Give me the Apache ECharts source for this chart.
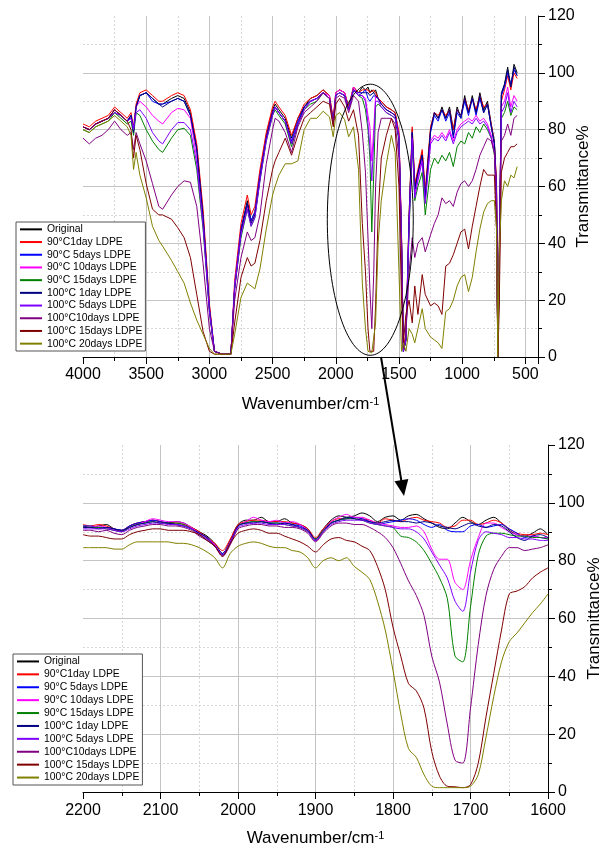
<!DOCTYPE html>
<html><head><meta charset="utf-8">
<script src="https://cdn.jsdelivr.net/npm/echarts@6/dist/echarts.min.js"></script>
<style>html,body{margin:0;padding:0;background:#fff}#c{width:611px;height:848px}</style>
</head><body><div id="c"></div>
<script>
const seriesNames = ['Original','90°C1day LDPE','90°C 5days LDPE','90°C 10days LDPE','90°C 15days LDPE','100°C 1day LDPE','100°C 5days LDPE','100°C10days LDPE','100°C 15days LDPE','100°C 20days LDPE'];
const seriesColors = ['#000000','#ff0000','#0000ff','#ff00ff','#008000','#000080','#8000ff','#800080','#800000','#808000'];

// ---------- top panel: full spectrum ----------
const wnTop = [4000,3950,3900,3850,3800,3750,3700,3650,3620,3600,
 3580,3550,3500,3450,3400,3370,3300,3250,3200,3150,
 3100,3050,3000,2960,2900,2830,2800,2750,2700,2670,
 2640,2600,2550,2500,2480,2450,2400,2350,2300,2250,
 2200,2150,2100,2050,2020,2000,1970,1930,1898,1860,
 1820,1790,1765,1745,1730,1715,1700,1685,1665,1640,
 1600,1560,1530,1500,1480,1465,1445,1420,1395,1375,
 1350,1316,1292,1250,1220,1190,1160,1130,1100,1070,
 1040,1010,980,950,920,890,860,830,800,770,
 745,728,718,708,690,665,640,615,590,565];
const topOriginal = [81,80,82,83,84,87,85,83,85,80,88,92,93,91,89,89,91,92,91,86,74,50,18,2,1,1,25,45,55,48,51,64,78,87,89,87,84,77,84,88,91,92,94,92,83,93,94,93,88,95,93,95,94,95,93,94,93,94,91,90,88,87,86,78,42,2,6,50,80,60,65,72,57,80,86,84,88,84,88,80,88,84,92,86,92,86,93,87,90,82,76,60,0,30,92,96,102,95,103,100];
const top90d1 = [82,81,83,84,85,88,86,84,86,81,89,93,94,92,90,90,92,93,92,87,75,52,19,2,1,1,27,47,57,50,53,66,79,88,90,88,85,78,84,89,91,92,94,92,84,93,94,93,88,95,93,94,94,94,93,93,94,93,91,90,88,87,86,79,44,3,8,50,81,61,66,73,59,81,86,85,87,85,87,80,87,85,91,87,91,87,92,88,89,82,75,62,1,35,90,94,99,94,100,98];
const top90d5 = [81,80,82,83,84,86,85,83,85,80,88,92,93,90,89,89,90,91,90,85,73,49,17,2,1,1,25,45,54,48,51,64,77,86,88,86,83,76,83,88,90,91,93,91,83,92,93,92,87,94,93,93,94,91,90,91,92,92,91,89,87,86,85,77,41,2,6,48,79,58,64,71,56,79,85,83,87,83,86,77,86,84,90,85,91,85,91,86,89,81,75,58,0,30,92,95,100,96,101,99];
const top90d10 = [81,80,82,83,84,87,85,83,84,80,88,90,88,85,83,82,86,87.5,87,84,70,48,17,2,1,1,25,44,53,47,50,63,77,86,88,86,83,75,82,87,90,91,93,92,82,93,94,93,87,95,92,92,91,85,81,69,80,92,91,89,87,86,85,78,42,2,6,47,78,57,63,70,55,76,78,77,79,77,80,76,80,82,83,84,83,85,83,84,82,78,73,58,0,28,88,90,95,88,92,90];
const top90d15 = [80,79,81,82,83,86,84,82,83,78,86,85,80,76,73,72,77,80,80.5,78,66,45,16,2,1,1,24,42,52,46,49,62,76,85,87,85,82,74,82,87,89,90,93,91,82,92,93,92,87,94,92,91,87,80,70,44,64,88,89,88,86,85,84,76,40,2,6,44,75,55,60,65,50,66,70,68,71,69,72,67,74,76,75,79,77,81,79,82,80,77,71,55,0,26,84,86,90,85,88,87];
const top100d1 = [81,80,82,83,84,87,85,83,85,79,88,92,93,91,89,88,90,91,90,85,73,49,17,2,1,1,24,44,54,47,50,63,77,86,88,86,83,75,82,88,90,91,93,91,82,92,93,92,87,94,92,93,93,93,92,92,93,92,91,89,87,86,85,77,41,2,6,48,79,59,65,71,56,80,86,84,87,84,87,78,87,85,91,86,91,86,92,86,89,81,75,58,0,28,93,96,101,95,102,99];
const top100d5 = [81,80,82,83,84,86,85,83,84,80,86,87,84,79,76,75,80,82.5,82.5,80,68,46,16,2,1,1,24,43,52,46,49,62,76,85,88,86,83,75,82,87,90,91,93,91,82,92,93,92,87,94,92,92,90,82,74,62,76,90,90,88,86,85,84,77,41,2,6,46,77,56,62,69,54,75,77,76,78,76,79,75,79,81,82,83,82,84,82,83,81,77,72,57,0,28,86,88,93,86,90,88];
const top100d10 = [77,75,77,78,80,83,80,78,79,73,79,75,69,61,53,52,57,60,62,61.5,53,33,10,2,1,1,20,35,44,41,42,50,68,80,84,83,79,72,81,86,88,90,93,91,82,91,92,91,86,92,90,79,65,42,24,10,29,60,79,84,84,84,82,70,35,3,8,30,42,35,40,42,37,43,47,50,56,54,55,53,58,61,62,60,62,66,71,74,77,76,72,50,0,25,76,78,82,78,84,85];
const top100d15 = [81,80,82,83,84,87,85,83,80,70,78,73,61,52,50,50,48.5,45.5,42,35,22,9,2,1,1,1,12,28,35,32,33,41,55,66,69,72,77,71,78,84,86,88,90,89,81,89,91,88,83,87,78,47,30,10,2,2,2,18,50,70,78,84,80,60,20,5,15,20,12,25,15,29,22,18,19,18,15,32,33,36,40,44,45,38,46,53,60,66,64,64,64,45,0,15,65,70,72,74,74,75];
const top100d20 = [80,79,81,82,83,85,83,81,78,66,72,64,56,46,41,39,34,30,26,19,13,8,3,1,1,1,8,21,26,25,24,31,45,57,60,64,68,68,69,80,84,84,86.5,84.5,77.5,85,86,83.5,77.5,81,66,26,10,2,1.5,1.5,2,12,40,55,68,78,72,30,2,5,2,10,8,5,10,17,10,7,6,5,3,16,17,20,25,28,29,23,28,37,45,51,54,55,55,45,0,35,55,62,60,64,63,67];

// ---------- bottom panel: 2200-1600 zoom ----------
const wnBot = [2200,2190,2180,2170,2160,2150,2140,2130,2120,2110,2100,2090,2080,2070,2060,2050,2040,2030,2020,2010,2000,1990,1980,1970,1960,1950,1940,1930,1920,1910,1900,1890,1880,1870,1860,1850,1840,1830,1820,1810,1800,1790,1780,1770,1760,1750,1740,1730,1720,1710,1700,1690,1680,1670,1660,1650,1640,1630,1620,1610,1600];
const botOriginal = [92,91.5,92,92.5,91,90,92,93,93.5,94,93.5,93,93.5,93,91.5,90,88.5,86,82.5,87,92.5,94,94,95,93.5,93.5,94.5,93,92.5,91,87.5,91,94,95.5,95,95.5,96.5,95.5,93.5,95,95.5,94,95.5,96,94.5,93,91.5,91,93,95,93.5,92.5,94,95,93,90.5,89,88.5,89.5,91,89];
const bot90d1 = [92.5,92,92.5,92,91,90.5,92,93,93.5,94,93.5,93,93,92.5,91.5,90,88,86,83.5,87.5,92.5,93.5,94,94,93.5,93.5,93.5,93,92.5,91,88,91,93.5,94.5,94.5,95,94.5,94,93,94.5,94,93.5,94.5,95,94,93.5,93,91.5,92,94,94,92.5,93,94,93,91,89.5,89,89,89.5,89];
const bot90d5 = [92,92,91.5,91.5,91,90.5,92,93,93.5,94,93.5,93,92.5,92,91,89.5,88,85.5,82.5,86.5,92,93,93.5,93.5,93,93,93,92.5,92,90.5,87.5,90.5,93,94,94.5,95,94.5,93.5,92.5,93,93.5,94,94.5,94,92.5,91.5,92.5,90.5,90,90,92,92.5,91.5,92,92.5,91,89.5,88,88.5,88,87.5];
const bot90d10 = [91.5,91.5,92,91.5,90.5,90,91.5,92.5,93.5,94.5,94,93.5,93.5,93,91.5,89.5,88,85.5,82,86.5,92,93.5,95,94,93.5,94,93,93.5,92.5,90.5,87,90.5,93.5,95,96,95,95,94,93,92.5,92,91.5,91.5,92,90,84,80.5,80.5,72.5,70,80,88,93,93,91.5,90,89,88.5,88.5,88,88];
const bot90d15 = [91.5,91.5,91.5,91,90.5,90,91.5,92.5,93,93.5,93,93,93,92.5,91,89,87.5,85,82,86,92,93,93.5,93.5,93,93,92.5,92,91.5,90,87.5,90.5,93,94,94.5,94.5,94,93,92.5,92,91.5,88.5,88,86.5,83.5,79,74,67,47,45,64,82,88.5,89.5,89.5,89,88.5,88.5,88,88,87.5];
const bot100d1 = [91.5,91.5,91,91.5,91,90.5,91.5,92.5,93,93.5,93,93,92.5,92,91,89.5,88,85,82,86,92,93,93,93.5,93,92.5,93,92.5,91.5,90.5,87,90,93,94,95,94.5,94,93.5,93,93.5,94,93.5,93.5,93,93.5,93,92,91.5,91,92,93,92,91.5,92.5,92,90,88,87,88.5,89,88];
const bot100d5 = [91,91,91,91,90.5,90,91,92,92.5,93,93,92.5,92.5,92,91,89,87.5,85,82,86,91.5,92.5,93,93,92.5,92.5,92.5,92,91.5,90,87,90,92.5,93.5,94,94,94,93,92.5,92,91.5,91,91,90,87.5,83,78.5,74,66,62.5,76,87,90,89.5,89,88,88,87.5,87.5,87,87];
const bot100d10 = [90.5,90.5,90,90.5,89.5,89,90.5,91.5,92,92.5,92.5,92,92,91.5,90.5,88.5,87,85,81.5,85.5,91,92,92.5,92.5,92,92,91.5,91.5,91,89.5,86.5,89.5,92,93,93,92.5,92.5,91.5,90,88,84.5,79,73,68,61,47,38,23.5,11,10,29,51,68,77,81.5,84.5,84.5,83.5,84,84.5,85.5];
const bot100d15 = [89,88.5,88.5,88,87.5,87.5,89,90,90.5,91,91,90.5,90.5,90.5,90,89,87,85,81.5,86,89.5,90.5,91,90.5,89.5,89.5,88.5,87.5,86.5,85,83,85.5,87.5,88,87,86.5,85,83.5,78,70,57,47,37.5,35,29,14,5.5,2,1.8,1.5,2.5,10,26,41,56,68.5,69.5,71,74,76,77.5];
const bot100d20 = [84.5,84.5,84.5,84.5,84,84,85.5,86.5,86.5,86.5,86.5,86.5,86,86,85.5,84.5,83,81,77.5,82.5,85,86,86.5,86,85,84.5,84.5,83.5,83,81,77.5,80,81,80,81,78,76,73.5,66,56,42,27,15,12,6,2,1.5,1.5,1.5,1.5,2,6,19,33,45,52,55,58.5,62,65,68.5];

const yTicks = [0,20,40,60,80,100,120];
// annotation: ellipse around the carbonyl band (data units of the top panel)
const ellipseCenter = [1727, 48.3];
const ellipseRadius = [340, 47.7];

const topData = [topOriginal,top90d1,top90d5,top90d10,top90d15,top100d1,top100d5,top100d10,top100d15,top100d20];
const botData = [botOriginal,bot90d1,bot90d5,bot90d10,bot90d15,bot100d1,bot100d5,bot100d10,bot100d15,bot100d20];

const FONT = '"Liberation Sans", Arial, sans-serif';
const chart = echarts.init(document.getElementById('c'), null, {renderer: 'canvas'});

function xAxis(gi, min, max, opts, nameGap) {
  return Object.assign({
    type: 'value', gridIndex: gi, min: min, max: max, inverse: true,
    axisLine: {show: true, onZero: false, lineStyle: {color: '#000', width: 1}},
    axisTick: {show: true, inside: false, length: 7, lineStyle: {color: '#000'}},
    minorTick: {show: true, splitNumber: 2, length: 4, lineStyle: {color: '#000'}},
    splitLine: {show: true, showMinLine: false, showMaxLine: false, lineStyle: {color: '#c4c4c4', width: 1}},
    minorSplitLine: {show: true, lineStyle: {color: '#d6d6d6', type: [2, 2], width: 1}},
    name: '{a|Wavenumber/cm}{b|-1}', nameLocation: 'middle', nameGap: nameGap, nameMoveOverlap: false,
    nameTextStyle: {fontFamily: FONT, color: '#000', rich: {a: {fontSize: 17, fontFamily: FONT, color: '#000'}, b: {fontSize: 11, fontFamily: FONT, color: '#000', verticalAlign: 'top'}}}
  }, opts);
}
function yAxis(gi, nameGap) {
  return {
    type: 'value', gridIndex: gi, position: 'right', min: yTicks[0], max: yTicks[yTicks.length - 1], interval: 20,
    axisLine: {show: true, onZero: false, lineStyle: {color: '#000', width: 1}},
    axisTick: {show: true, inside: false, length: 7, lineStyle: {color: '#000'}},
    minorTick: {show: true, splitNumber: 2, length: 4, lineStyle: {color: '#000'}},
    axisLabel: {fontSize: 16, color: '#000', fontFamily: FONT, margin: 10},
    splitLine: {show: true, showMinLine: false, showMaxLine: false, lineStyle: {color: '#c4c4c4', width: 1}},
    minorSplitLine: {show: true, lineStyle: {color: '#d6d6d6', type: [2, 2], width: 1}},
    name: 'Transmittance%', nameLocation: 'middle', nameGap: nameGap, nameMoveOverlap: false,
    nameTextStyle: {fontSize: 17, color: '#000', fontFamily: FONT}
  };
}

const series = [];
topData.forEach((arr, i) => series.push({
  name: seriesNames[i], type: 'line', xAxisIndex: 0, yAxisIndex: 0,
  data: wnTop.map((w, k) => [w, arr[k]]), symbol: 'none', showSymbol: false,
  lineStyle: {width: 1, color: seriesColors[i]}, itemStyle: {color: seriesColors[i]}, animation: false
}));
botData.forEach((arr, i) => series.push({
  name: seriesNames[i], type: 'line', xAxisIndex: 1, yAxisIndex: 1, smooth: 0.3,
  data: wnBot.map((w, k) => [w, arr[k]]), symbol: 'none', showSymbol: false,
  lineStyle: {width: 1, color: seriesColors[i]}, itemStyle: {color: seriesColors[i]}, animation: false
}));

function legend(left, top, lh) {
  return {
    show: true, orient: 'vertical', left: left, top: top, icon: 'rect', itemWidth: 22, itemHeight: 2, itemGap: 0,
    padding: [1, 3, 1, 4], backgroundColor: '#fff', borderColor: '#555', borderWidth: 1, borderRadius: 0,
    textStyle: {fontSize: 10.4, lineHeight: lh, color: '#000', fontFamily: FONT},
    data: seriesNames, selectedMode: false
  };
}

const option = {
  animation: false,
  backgroundColor: '#fff',
  grid: [
    {left: 83, top: 16, width: 455, height: 341},
    {left: 83, top: 445, width: 466, height: 347}
  ],
  xAxis: [
    xAxis(0, 400, 4000, {splitNumber: 7, minInterval: 500, maxInterval: 500,
      axisLabel: {fontSize: 16, color: '#000', fontFamily: FONT, margin: 10, formatter: v => (v % 500 === 0 ? String(v) : '')}}, 39),
    xAxis(1, 1600, 2200, {interval: 100,
      axisLabel: {fontSize: 16, color: '#000', fontFamily: FONT, margin: 11, formatter: v => String(v)}}, 38)
  ],
  yAxis: [yAxis(0, 37), yAxis(1, 38)],
  legend: [legend(16, 222, 12.7), legend(13, 654, 12.9)],
  series: series
};
chart.setOption(option);

const c0 = chart.convertToPixel({gridIndex: 0}, ellipseCenter);
const c1 = chart.convertToPixel({gridIndex: 0}, [ellipseCenter[0] - ellipseRadius[0], ellipseCenter[1] + ellipseRadius[1]]);
chart.setOption({
  graphic: [
    {type: 'ellipse', shape: {cx: c0[0], cy: c0[1], rx: Math.abs(c1[0] - c0[0]), ry: Math.abs(c0[1] - c1[1])},
     style: {fill: 'none', stroke: '#000', lineWidth: 1}, z: 100},
    {type: 'line', shape: {x1: 381, y1: 357, x2: 401.4, y2: 481}, style: {stroke: '#000', lineWidth: 2}, z: 100},
    {type: 'polygon', shape: {points: [[404, 496], [408.3, 479.1], [394.5, 481.3]]}, style: {fill: '#000'}, z: 100}
  ]
});
</script></body></html>
